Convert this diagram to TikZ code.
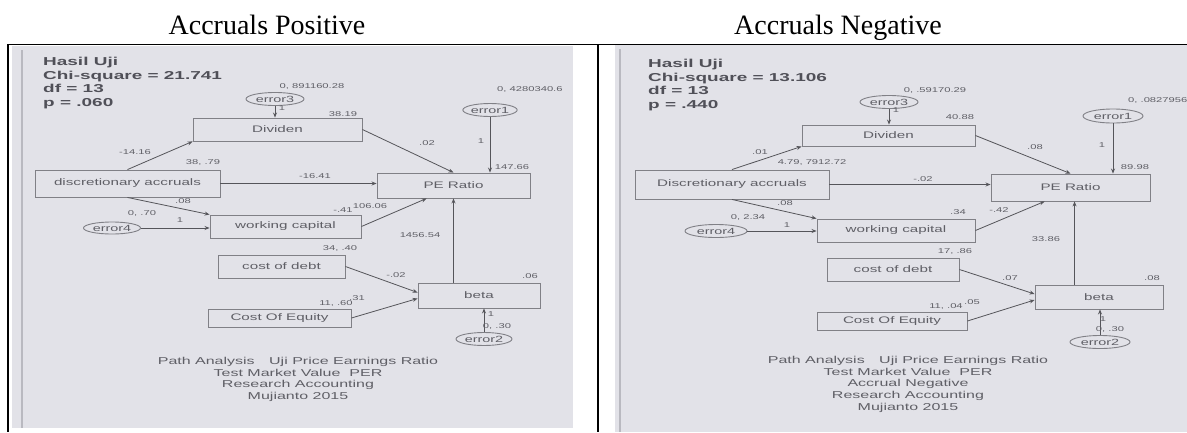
\documentclass[tikz,border=0pt]{standalone}
\usepackage{fontspec}
\setmainfont{Liberation Serif}
\newfontfamily\amos[FakeStretch=1.6]{Liberation Sans}
\newfontfamily\amosb[FakeStretch=1.65]{Liberation Sans Bold}
\usetikzlibrary{calc,shapes.geometric,arrows.meta}
\definecolor{scr}{RGB}{226,226,232}
\definecolor{scrdark}{RGB}{185,185,192}
\definecolor{boxc}{RGB}{128,128,134}
\definecolor{txtc}{RGB}{95,95,102}
\definecolor{hasc}{RGB}{80,80,88}
\definecolor{arrc}{RGB}{85,85,90}
\tikzset{
  varbox/.style={draw=boxc, line width=0.9pt, inner sep=0pt, font=\amos\fontsize{9.5}{9.5}\selectfont, text=txtc},
  errell/.style={ellipse, draw=boxc, line width=0.9pt, inner sep=0pt, font=\amos\fontsize{9}{9}\selectfont, text=txtc},
  lbl/.style={font=\amos\fontsize{7}{7}\selectfont, text=txtc, inner sep=0pt},
  arr/.style={draw=arrc, line width=0.8pt, -{Stealth[length=5pt,width=4pt]}},
  hasil/.style={font=\amosb\fontsize{11.5}{13.5}\selectfont, text=hasc, align=left, inner sep=0pt},
  foot/.style={font=\amos\fontsize{10}{11.7}\selectfont, text=txtc, align=center, inner sep=0pt},
  ttl/.style={font=\fontsize{28}{28}\selectfont, inner sep=0pt, anchor=base},
  frame/.style={line width=1.3pt, draw=black},
  strip/.style={draw=scrdark, line width=1.5pt},
}
\begin{document}
\begin{tikzpicture}[x=1pt,y=-1pt]
\useasboundingbox (0,0) rectangle (1187,432);
% titles and table frame
\node[ttl] (ttlL) at (267,34) {Accruals Positive};
\node[ttl] (ttlR) at (838,34) {Accruals Negative};
\fill[scr] (12,46) rectangle (573,428);
\fill[scr] (615,45) rectangle (1187,432);
\draw[strip] (22,50) -- (22,428);
\draw[strip] (620,49) -- (620,432);
\draw[frame] (7,44.5) -- (1187,44.5);
\draw[frame] (8,44) -- (8,432);
\draw[frame] (598,44) -- (598,432);

% ================= LEFT PANEL =================
\begin{scope}
\clip (12,46) rectangle (573,428);
\node[hasil, anchor=north west] (hasL) at (43,57) {Hasil Uji\\Chi-square = 21.741\\df = 13\\p = .060};
\node[errell, minimum width=58pt, minimum height=13pt] (eL3) at (275,99) {error3};
\node[varbox, minimum width=169pt, minimum height=23pt] (divL) at (277.5,129.5) {Dividen};
\node[errell, minimum width=52pt, minimum height=13pt] (eL1) at (490,110) {error1};
\node[varbox, minimum width=153pt, minimum height=25pt] (peL) at (453.5,185.5) {PE Ratio};
\node[varbox, minimum width=185pt, minimum height=27pt] (discL) at (127.5,183.5) {discretionary accruals};
\node[varbox, minimum width=151pt, minimum height=23pt] (wcL) at (285.5,226.5) {working capital};
\node[errell, minimum width=57pt, minimum height=12pt] (eL4) at (112,228) {error4};
\node[varbox, minimum width=127pt, minimum height=23pt] (codL) at (281.5,266.5) {cost of debt};
\node[varbox, minimum width=122pt, minimum height=25pt] (betaL) at (479,295.5) {beta};
\node[varbox, minimum width=143pt, minimum height=18pt] (coeL) at (279.5,318) {Cost Of Equity};
\node[errell, minimum width=56pt, minimum height=13pt] (eL2) at (484,339) {error2};

\draw[arr] (eL3.south) -- (eL3.south |- divL.north);
\draw[arr] (discL.north) -- (divL.south west);
\draw[arr] (divL.east) -- (peL.north);
\draw[arr] (eL1.south) -- (eL1.south |- peL.north);
\draw[arr] (discL.east) -- (discL.east -| peL.west);
\draw[arr] (discL.south) -- (wcL.north west);
\draw[arr] (eL4.east) -- (eL4.east -| wcL.west);
\coordinate (pwL) at ($(peL.south west)+(50,0)$);
\draw[arr] (wcL.east) -- (pwL);
\draw[arr] (betaL.north -| peL.south) -- (peL.south);
\draw[arr] (codL.east) -- ($(betaL.west)+(0,-3)$);
\draw[arr] (coeL.east) -- ($(betaL.west)+(0,3)$);
\draw[arr] (eL2.north) -- (eL2.north |- betaL.south);

\node[lbl] (lL1) at (312,86) {0, 891160.28};
\node[lbl] (lL2) at (282,108) {1};
\node[lbl] (lL3) at (343,114) {38.19};
\node[lbl, anchor=west] (lL4) at (497,89) {0, 4280340.6};
\node[lbl] (lL5) at (481,141) {1};
\node[lbl] (lL6) at (512,167) {147.66};
\node[lbl] (lL7) at (427,143) {.02};
\node[lbl] (lL8) at (203,162) {38, .79};
\node[lbl] (lL9) at (135,152) {-14.16};
\node[lbl] (lL10) at (315,176) {-16.41};
\node[lbl] (lL11) at (183,201) {.08};
\node[lbl] (lL12) at (142,213) {0, .70};
\node[lbl] (lL13) at (180,220) {1};
\node[lbl] (lL14) at (343,210) {-.41};
\node[lbl] (lL15) at (370,206) {106.06};
\node[lbl] (lL16) at (420,235) {1456.54};
\node[lbl] (lL17) at (340,248) {34, .40};
\node[lbl] (lL18) at (530,276) {.06};
\node[lbl] (lL19) at (396,275) {-.02};
\node[lbl] (lL20) at (336,303) {11, .60};
\node[lbl] (lL21) at (357,298) {.31};
\node[lbl] (lL22) at (491,314) {1};
\node[lbl] (lL23) at (497,326) {0, .30};

\node[foot, anchor=north] (footL) at (298,357) {Path Analysis \quad Uji Price Earnings Ratio\\Test Market Value \ PER\\Research Accounting\\Mujianto 2015};
\end{scope}

% ================= RIGHT PANEL =================
\begin{scope}
\clip (615,45) rectangle (1187,432);
\node[hasil, anchor=north west] (hasR) at (648,59) {Hasil Uji\\Chi-square = 13.106\\df = 13\\p = .440};
\node[errell, minimum width=58pt, minimum height=13pt] (eR3) at (889,102) {error3};
\node[varbox, minimum width=173pt, minimum height=21pt] (divR) at (888.5,135.5) {Dividen};
\node[errell, minimum width=60pt, minimum height=14pt] (eR1) at (1113,116) {error1};
\node[varbox, minimum width=159pt, minimum height=27pt] (peR) at (1070.5,187.5) {PE Ratio};
\node[varbox, minimum width=194pt, minimum height=29pt] (discR) at (732,184.5) {Discretionary accruals};
\node[varbox, minimum width=158pt, minimum height=23pt] (wcR) at (896,230.5) {working capital};
\node[errell, minimum width=62pt, minimum height=13pt] (eR4) at (716,231) {error4};
\node[varbox, minimum width=132pt, minimum height=23pt] (codR) at (893,269.5) {cost of debt};
\node[varbox, minimum width=128pt, minimum height=24pt] (betaR) at (1099,297) {beta};
\node[varbox, minimum width=150pt, minimum height=18pt] (coeR) at (892,321) {Cost Of Equity};
\node[errell, minimum width=60pt, minimum height=13pt] (eR2) at (1100,342) {error2};

\draw[arr] (eR3.south) -- (eR3.south |- divR.north);
\draw[arr] (discR.north) -- (divR.south west);
\draw[arr] (divR.east) -- (peR.north);
\draw[arr] (eR1.south) -- (eR1.south |- peR.north);
\draw[arr] (discR.east) -- (discR.east -| peR.west);
\draw[arr] (discR.south) -- (wcR.north west);
\draw[arr] (eR4.east) -- (eR4.east -| wcR.west);
\coordinate (pwR) at ($(peR.south west)+(54,0)$);
\draw[arr] (wcR.east) -- (pwR);
\coordinate (pbR) at ($(peR.south west)+(84,0)$);
\draw[arr] (pbR |- betaR.north) -- (pbR);
\draw[arr] (codR.east) -- ($(betaR.west)+(0,-3)$);
\draw[arr] (coeR.east) -- ($(betaR.west)+(0,3)$);
\draw[arr] (eR2.north) -- (eR2.north |- betaR.south);

\node[lbl] (lR1) at (935,90) {0, .59170.29};
\node[lbl] (lR2) at (896,110) {1};
\node[lbl] (lR3) at (960,117) {40.88};
\node[lbl, anchor=west] (lR4) at (1128,100) {0, .0827956};
\node[lbl] (lR5) at (1102,145) {1};
\node[lbl] (lR6) at (1135,167) {89.98};
\node[lbl] (lR7) at (1035,147) {.08};
\node[lbl] (lR8) at (812,162) {4.79, 7912.72};
\node[lbl] (lR9) at (760,152) {.01};
\node[lbl] (lR10) at (923,179) {-.02};
\node[lbl] (lR11) at (785,203) {.08};
\node[lbl] (lR12) at (748,217) {0, 2.34};
\node[lbl] (lR13) at (787,225) {1};
\node[lbl] (lR14) at (958,212) {.34};
\node[lbl] (lR15) at (999,210) {-.42};
\node[lbl] (lR16) at (1046,239) {33.86};
\node[lbl] (lR17) at (955,251) {17, .86};
\node[lbl] (lR18) at (1152,278) {.08};
\node[lbl] (lR19) at (1010,278) {.07};
\node[lbl] (lR20) at (946,306) {11, .04};
\node[lbl] (lR21) at (972,302) {.05};
\node[lbl] (lR22) at (1103,319) {1};
\node[lbl] (lR23) at (1110,329) {0, .30};

\node[foot, anchor=north] (footR) at (908,356) {Path Analysis \quad Uji Price Earnings Ratio\\Test Market Value \ PER\\Accrual Negative\\Research Accounting\\Mujianto 2015};
\end{scope}
\end{tikzpicture}
\end{document}
